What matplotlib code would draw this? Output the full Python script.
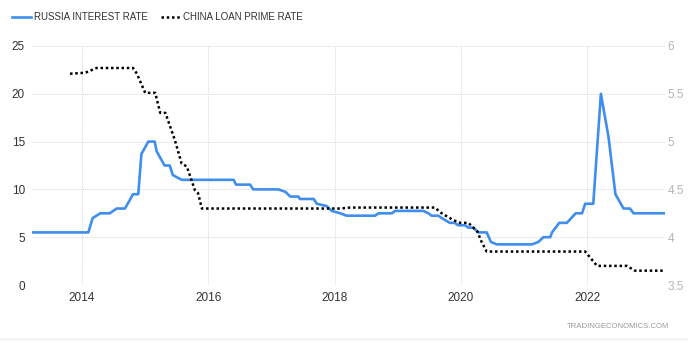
import matplotlib
matplotlib.use("Agg")
import matplotlib.pyplot as plt
from matplotlib.lines import Line2D
import pandas as pd

# Russia key interest rate (%), left axis
russia_dates = [
    "2013-03-17", "2014-02-06", "2014-03-03", "2014-04-16", "2014-06-10", "2014-07-20",
    "2014-09-06", "2014-10-23", "2014-11-22", "2014-12-10", "2015-01-19", "2015-02-25",
    "2015-03-08", "2015-04-23", "2015-05-23", "2015-06-10", "2015-07-31", "2016-05-27",
    "2016-06-10", "2016-08-30", "2016-09-17", "2017-02-10", "2017-03-22", "2017-04-20",
    "2017-06-06", "2017-06-14", "2017-09-02", "2017-09-20", "2017-11-17", "2017-12-16",
    "2018-02-03", "2018-03-12", "2018-08-23", "2018-09-13", "2018-11-29", "2018-12-17",
    "2019-05-30", "2019-06-28", "2019-07-16", "2019-08-25", "2019-09-13", "2019-10-30",
    "2019-11-28", "2019-12-16", "2020-01-26", "2020-02-14", "2020-03-14", "2020-04-12",
    "2020-05-30", "2020-06-24", "2020-07-27", "2021-02-17", "2021-03-25", "2021-04-23",
    "2021-06-02", "2021-06-12", "2021-07-24", "2021-09-06", "2021-10-27", "2021-12-03",
    "2021-12-21", "2022-02-06", "2022-03-22", "2022-05-05", "2022-06-14", "2022-07-31",
    "2022-09-06", "2022-09-27", "2023-03-28",
]
russia_rate = [
    5.5, 5.5, 7.0, 7.5, 7.5, 8.0,
    8.0, 9.5, 9.5, 13.7, 15.0, 15.0,
    14.0, 12.5, 12.5, 11.5, 11.0, 11.0,
    10.5, 10.5, 10.0, 10.0, 9.75, 9.25,
    9.25, 9.0, 9.0, 8.5, 8.25, 7.75,
    7.5, 7.25, 7.25, 7.5, 7.5, 7.75,
    7.75, 7.5, 7.25, 7.25, 7.0, 6.5,
    6.5, 6.25, 6.25, 6.0, 6.0, 5.5,
    5.5, 4.5, 4.25, 4.25, 4.5, 5.0,
    5.0, 5.5, 6.5, 6.5, 7.5, 7.5,
    8.5, 8.5, 20.0, 15.5, 9.5, 8.0,
    8.0, 7.5, 7.5,
]

# China loan prime rate (%), right axis
china_dates = [
    "2013-10-23", "2014-01-19", "2014-03-26", "2014-10-23", "2014-11-14", "2015-01-01",
    "2015-02-28", "2015-03-29", "2015-04-28", "2015-06-21", "2015-07-31", "2015-08-30",
    "2015-10-16", "2015-11-03", "2015-11-25", "2018-02-03", "2018-04-01", "2019-08-04",
    "2019-09-13", "2019-11-18", "2019-12-28", "2020-02-14", "2020-03-08", "2020-04-06",
    "2020-05-01", "2020-05-30", "2021-12-21", "2022-02-28", "2022-08-19", "2022-10-05",
    "2023-03-17",
]
china_rate = [
    5.71, 5.72, 5.77, 5.77, 5.71, 5.51,
    5.51, 5.30, 5.30, 5.02, 4.77, 4.74,
    4.49, 4.46, 4.30, 4.30, 4.31, 4.31,
    4.25, 4.18, 4.15, 4.15, 4.11, 4.06,
    3.95, 3.85, 3.85, 3.70, 3.70, 3.65,
    3.65,
]

left_ticks = [0, 5, 10, 15, 20, 25]
right_ticks = [3.5, 4, 4.5, 5, 5.5, 6]
year_ticks = ["2014", "2016", "2018", "2020", "2022"]

russia_x = pd.to_datetime(russia_dates)
china_x = pd.to_datetime(china_dates)

plt.rcParams["font.family"] = ["Liberation Sans", "DejaVu Sans"]

fig = plt.figure(figsize=(7.0, 3.43), dpi=100)
fig.patch.set_facecolor("white")
ax = fig.add_axes([32 / 700, 1 - 285 / 343, (665 - 32) / 700, (285 - 46) / 343])
ax2 = ax.twinx()

blue = "#3f8eed"
ax.plot(russia_x, russia_rate, color=blue, lw=1.9, solid_joinstyle="round", zorder=3)
ax2.plot(china_x, china_rate, color="black", lw=1.8, linestyle=(0, (1, 1.1)), zorder=3)

ax.set_xlim(russia_x[0], russia_x[-1])
ax.set_ylim(left_ticks[0], left_ticks[-1])
ax2.set_ylim(right_ticks[0], right_ticks[-1])

ax.set_yticks(left_ticks)
ax.set_yticklabels([str(t) for t in left_ticks])
ax2.set_yticks(right_ticks)
ax2.set_yticklabels([f"{t:g}" for t in right_ticks])
ax.set_xticks(pd.to_datetime(year_ticks))
ax.set_xticklabels(year_ticks)

ax.tick_params(axis="y", length=0, pad=5, labelsize=8.5, labelcolor="#333333")
ax2.tick_params(axis="y", length=0, pad=2, labelsize=8.5, labelcolor="#b5b5b5")
ax.tick_params(axis="x", length=0, pad=5, labelsize=8.5, labelcolor="#333333")

for a in (ax, ax2):
    for s in a.spines.values():
        s.set_visible(False)

ax.grid(True, which="major", color="#d9d9d9", linestyle=(0, (1, 1)), lw=0.7)
ax.set_axisbelow(True)

handles = [
    Line2D([], [], color=blue, lw=1.9),
    Line2D([], [], color="black", lw=1.8, linestyle=(0, (1, 1.1))),
]
fig.legend(handles, ["RUSSIA INTEREST RATE", "CHINA LOAN PRIME RATE"],
           loc="center left", bbox_to_anchor=(3 / 700, 1 - 17 / 343), ncol=2,
           frameon=False, fontsize=7, handlelength=2.0, handletextpad=0.3,
           columnspacing=1.3, labelcolor="#333333")

fig.text(669 / 700, 1 - 326 / 343, "TRADINGECONOMICS.COM", ha="right", va="center",
         fontsize=5.6, color="#9a9a9a")
fig.add_artist(Line2D([0, 687 / 700], [4 / 343, 4 / 343], color="#eeeeee", lw=1))

fig.savefig("out.png", dpi=100, facecolor="white")
